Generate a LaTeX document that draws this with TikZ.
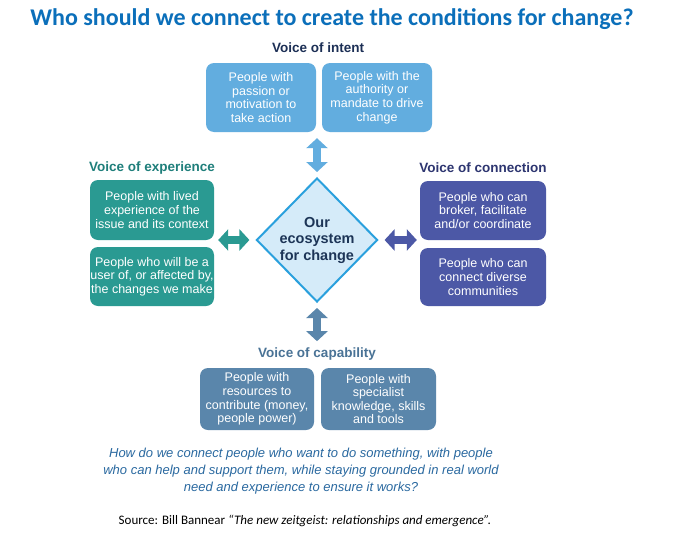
\documentclass[tikz,border=0pt]{standalone}
\usepackage{fontspec}
\setmainfont{Liberation Sans}
\newfontfamily\calibri{Carlito}
\usetikzlibrary{shapes.geometric,arrows.meta}
\definecolor{titleblue}{HTML}{0B6FBA}
\definecolor{intentfill}{HTML}{62ADDF}
\definecolor{intenthead}{HTML}{1C2F55}
\definecolor{expfill}{HTML}{2A9A92}
\definecolor{exphead}{HTML}{1F7F7B}
\definecolor{confill}{HTML}{4C58A6}
\definecolor{conhead}{HTML}{2D3570}
\definecolor{capfill}{HTML}{5A86AB}
\definecolor{caphead}{HTML}{4A7396}
\definecolor{diafill}{HTML}{D5EBF9}
\definecolor{diaedge}{HTML}{2AA0DD}
\definecolor{diatext}{HTML}{1D3557}
\definecolor{asktext}{HTML}{2A69A0}

\begin{document}
\begin{tikzpicture}[x=1pt,y=-1pt,
    box/.style ={rounded corners=8pt, text=white, align=center, inner sep=0pt,
                 font=\fontsize{12.5}{13.6}\selectfont},
    voice/.style ={font=\fontsize{13.5}{16}\selectfont\bfseries},
    link/.style ={line width=8pt, {Triangle[length=10pt,width=21pt]}-{Triangle[length=10pt,width=21pt]}}]
   \useasboundingbox[fill=white] (0,0) rectangle (680,533);
   \node[font=\calibri\fontsize{24}{28}\selectfont\bfseries, text=titleblue] (title) at (332,19)
        {Who should we connect to create the conditions for change?};
   \node[diamond, draw=diaedge, line width=2pt, fill=diafill, minimum width=118pt, minimum height=124pt,
         inner sep=0pt, align=center, text=diatext, font=\fontsize{14.5}{16.5}\selectfont\bfseries] (eco) at (317,240)
        {Our\\ecosystem\\for change};
   \node[voice, text=intenthead] (intent) at (318,48) {Voice of intent};
   \node[box, fill=intentfill, minimum width=110pt, minimum height=69pt] (in1) at (261,97.5)
        {People with\\passion or\\motivation to\\take action};
   \node[box, fill=intentfill, minimum width=110pt, minimum height=69pt] (in2) at (377,97.5)
        {People with the\\authority or\\mandate to drive\\change};
   \node[voice, text=exphead] (exp) at (152,168) {Voice of experience};
   \node[box, fill=expfill, minimum width=124pt, minimum height=60pt] (exp1) at (152,210)
        {People with lived\\experience of the\\issue and its context};
   \node[box, fill=expfill, minimum width=124pt, minimum height=59pt] (exp2) at (152,276.5)
        {People who will be a\\user of, or affected by,\\the changes we make};
   \node[voice, text=conhead] (con) at (483,168) {Voice of connection};
   \node[box, fill=confill, minimum width=126pt, minimum height=59pt] (con1) at (483,210.5)
        {People who can\\broker, facilitate\\and/or coordinate};
   \node[box, fill=confill, minimum width=126pt, minimum height=58pt] (con2) at (483,277)
        {People who can\\connect diverse\\communities};
   \node[voice, text=caphead] (cap) at (317,354) {Voice of capability};
   \node[box, fill=capfill, minimum width=114pt, minimum height=62pt] (cap1) at (257,399)
        {People with\\resources to\\contribute (money,\\people power)};
   \node[box, fill=capfill, minimum width=115pt, minimum height=62pt] (cap2) at (378.5,399)
        {People with\\specialist\\knowledge, skills\\and tools};
   \draw[link, intentfill, shorten <=6pt, shorten >=5pt] (eco.north |- in1.south) to (eco.north);
   \draw[link, expfill, shorten <=4pt, shorten >=6pt] (exp1.east |- eco.west) to (eco.west);
   \draw[link, confill, shorten <=6pt, shorten >=3pt] (eco.east) to (con1.west |- eco.east);
   \draw[link, capfill, shorten <=5pt, shorten >=3pt] (eco.south) to (cap.north);
   \node[align=center, text=asktext, font=\fontsize{13}{17}\selectfont\itshape] (ask) at (301,471)
        {How do we connect people who want to do something, with people\\
         who can help and support them, while staying grounded in real world\\
         need and experience to ensure it works?};
   \node[font=\calibri\fontsize{13}{15}\selectfont] (source) at (305,521)
        {Source: Bill Bannear \textit{“The new zeitgeist: relationships and emergence”.}};
\end{tikzpicture}
\end{document}
